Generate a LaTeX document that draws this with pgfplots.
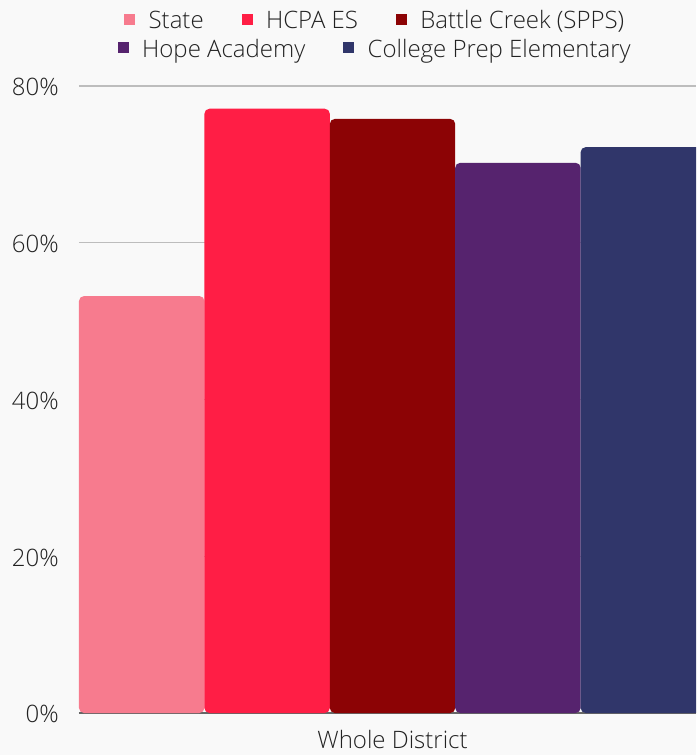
\documentclass[border=0pt]{standalone}
\usepackage{pgfplots}
\pgfplotsset{compat=1.18}
\usepackage{fontspec}
\setmainfont{Open Sans Light}
\definecolor{bg}{HTML}{F9F9F9}
\definecolor{cState}{HTML}{F77B8E}
\definecolor{cHCPA}{HTML}{FF1E45}
\definecolor{cBC}{HTML}{8C0305}
\definecolor{cHope}{HTML}{56236E}
\definecolor{cCP}{HTML}{30366A}
\definecolor{txt}{HTML}{222222}
\definecolor{gridc}{HTML}{BDBDBD}
\definecolor{axisc}{HTML}{666666}
\newcommand{\lsq}[1]{\textcolor{#1}{\rule[2.8pt]{8.25pt}{8.25pt}}}
\newcommand{\lfont}{\fontsize{18}{21}\selectfont}
\begin{document}
\begin{tikzpicture}[x=1pt,y=1pt]
\fill[bg] (0,0) rectangle (522,566.25);
\begin{axis}[
  at={(59.25pt,31.5pt)}, anchor=south west,
  scale only axis, width=462.75pt, height=470.25pt,
  xmin=0, xmax=4.92, ymin=0, ymax=80,
  axis x line*=bottom, axis y line*=left,
  x axis line style={draw=axisc, line width=1.2pt, -},
  y axis line style={draw=none},
  ytick={0,20,40,60,80},
  yticklabel={\pgfmathprintnumber{\tick}\%},
  xtick={2.5}, xticklabels={Whole District},
  major tick length=0pt,
  ymajorgrids, grid style={gridc, line width=0.9pt},
  tick label style={font=\lfont, text=txt},
  yticklabel style={anchor=east, inner sep=0pt, xshift=-15pt, yshift=-1pt},
  xticklabel style={anchor=north, inner sep=0pt, yshift=-12.5pt},
  /pgf/number format/assume math mode=true,
  clip=true,
]
\addplot[ybar, bar width=1, bar shift=0pt, fill=cState, draw=none, rounded corners=3.75pt] coordinates {(0.5,53.2)};
\addplot[ybar, bar width=1, bar shift=0pt, fill=cHCPA, draw=none, rounded corners=3.75pt] coordinates {(1.5,77.1)};
\addplot[ybar, bar width=1, bar shift=0pt, fill=cBC, draw=none, rounded corners=3.75pt] coordinates {(2.5,75.8)};
\addplot[ybar, bar width=1, bar shift=0pt, fill=cHope, draw=none, rounded corners=3.75pt] coordinates {(3.5,70.2)};
\addplot[ybar, bar width=1, bar shift=0pt, fill=cCP, draw=none, rounded corners=3.75pt] coordinates {(4.5,72.2)};
\end{axis}
\node[font=\lfont, text=txt, inner sep=0pt] at (280.7,550) {\lsq{cState}\hspace{10pt}State\hspace{28.5pt}\lsq{cHCPA}\hspace{10pt}HCPA ES\hspace{28.5pt}\lsq{cBC}\hspace{10pt}Battle Creek (SPPS)};
\node[font=\lfont, text=txt, inner sep=0pt] at (280.7,528) {\lsq{cHope}\hspace{10pt}Hope Academy\hspace{28.5pt}\lsq{cCP}\hspace{10pt}College Prep Elementary};
\end{tikzpicture}
\end{document}
